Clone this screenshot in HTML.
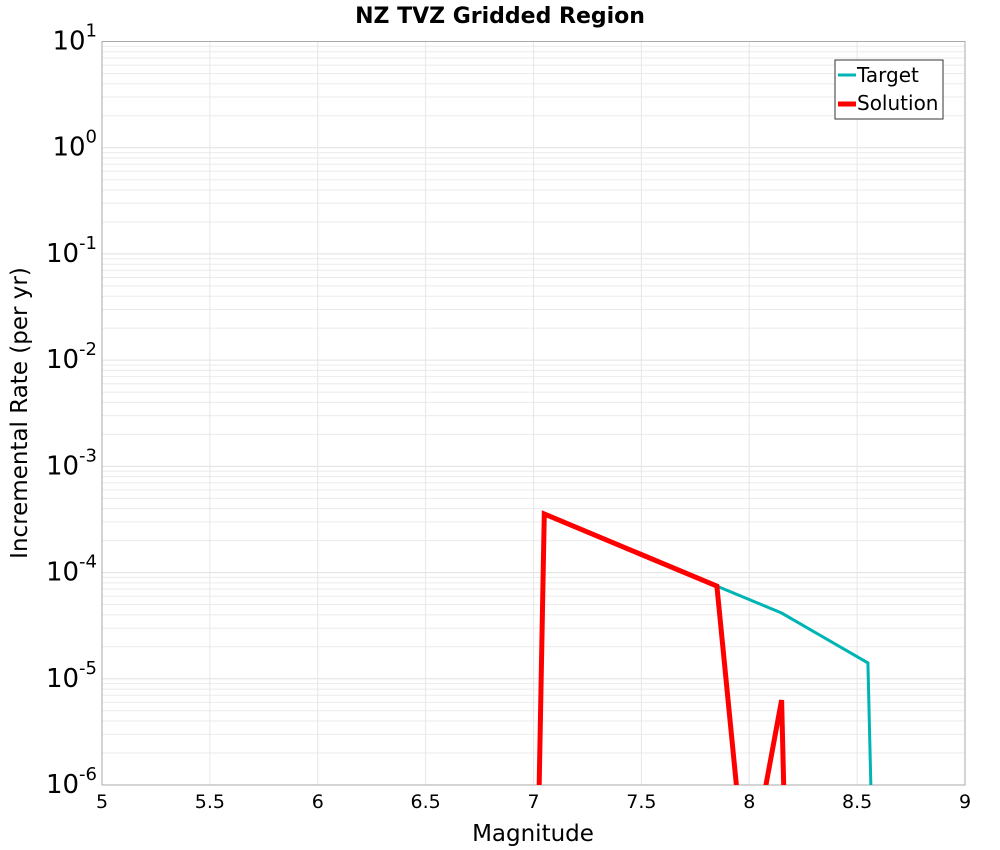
<!DOCTYPE html>
<html><head><meta charset="utf-8"><style>
html,body{margin:0;background:#fff;width:1000px;height:850px;overflow:hidden;}
svg{display:block;font-family:"DejaVu Sans","Liberation Sans",sans-serif;}
</style></head><body>
<svg id="chart" width="1000" height="850">
<defs><clipPath id="clip"><rect x="102" y="41.5" width="863" height="743.5"/></clipPath></defs>
<text x="500" y="23" text-anchor="middle" font-size="22" font-weight="bold">NZ TVZ Gridded Region</text>
<g id="grid"></g>
<rect x="102" y="41.5" width="863" height="743.5" fill="none" stroke="#aaa"/>
<g id="ticks"></g>
<g id="series" clip-path="url(#clip)"></g>
<text x="533" y="841" text-anchor="middle" font-size="23">Magnitude</text>
<text transform="translate(27,413) rotate(-90)" text-anchor="middle" font-size="23">Incremental Rate (per yr)</text>
<g>
<rect x="835" y="60" width="108" height="59" fill="#fff" stroke="#333"/>
<line x1="838" y1="75" x2="856" y2="75" stroke="#00b4b4" stroke-width="3"/>
<text x="857" y="82" font-size="20">Target</text>
<line x1="838" y1="104" x2="856" y2="104" stroke="#f00" stroke-width="5"/>
<text x="857" y="110" font-size="20">Solution</text>
</g>
</svg>
<script>
const xTicks=[5,5.5,6,6.5,7,7.5,8,8.5,9];
const yDecades=[-6,-5,-4,-3,-2,-1,0,1];
const targetMags=[6.95,7.05,7.85,8.15,8.55,8.65];
const targetRates=[6e-15,3.56e-4,7.46e-5,4.16e-5,1.41e-5,5e-14];
const solutionMags=[6.95,7.05,7.85,7.95,8.05,8.15,8.25];
const solutionRates=[6e-15,3.56e-4,7.46e-5,6.3e-7,5e-7,6.3e-6,3e-14];
const NS="http://www.w3.org/2000/svg";
const X0=102,X1=965,Y0=785,Y1=41.5;
const xs=m=>X0+(m-5)/(9-5)*(X1-X0);
const ys=r=>Y0-(Math.log10(r)+6)/7*(Y0-Y1);
function mk(t,a,p){const e=document.createElementNS(NS,t);for(const k in a)e.setAttribute(k,a[k]);p.appendChild(e);return e;}
const grid=document.getElementById('grid'),ticks=document.getElementById('ticks'),ser=document.getElementById('series');
for(const d of yDecades){
  if(d<1)for(let k=2;k<=9;k++){const l=mk('line',{x1:X0,x2:X1,y1:ys(k*Math.pow(10,d)),y2:ys(k*Math.pow(10,d)),stroke:'#ebebeb'},grid);
    
    }
  const y=ys(Math.pow(10,d));
  const l=mk('line',{x1:X0,x2:X1,y1:y,y2:y,stroke:'#e0e0e0'},grid);
  
  
  const t=mk('text',{x:X0-5,y:y+8,'text-anchor':'end','font-size':26},ticks);
  
  
  t.innerHTML='10<tspan dy="-13" font-size="18">'+d+'</tspan>';
}
for(const v of xTicks){
  const x=xs(v);
  const l=mk('line',{x1:x,x2:x,y1:Y1,y2:Y0,stroke:'#e6e6e6'},grid);
  
  
  const t=mk('text',{x:x,y:808,'text-anchor':'middle','font-size':19},ticks);
  
  
  t.textContent=v;
}
function line(ms,rs,color,w,name){
  const p=mk('polyline',{points:ms.map((m,i)=>xs(m)+','+ys(rs[i])).join(' '),fill:'none',stroke:color,'stroke-width':w,'stroke-linejoin':'miter'},ser);
  
  
}
line(targetMags,targetRates,'#00b4b4',3,'target-line');
line(solutionMags,solutionRates,'#ff0000',5,'solution-line');
</script>
</body></html>
